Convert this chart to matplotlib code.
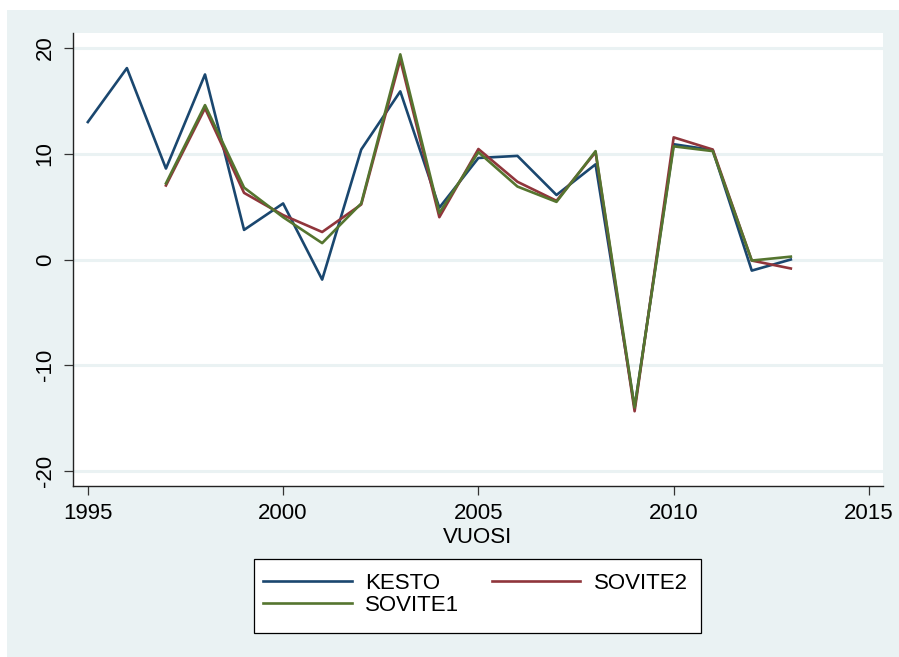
import matplotlib
matplotlib.use("Agg")
import matplotlib.pyplot as plt
from matplotlib.patches import Rectangle
import numpy as np

years_kesto = [1995, 1996, 1997, 1998, 1999, 2000, 2001, 2002, 2003, 2004,
               2005, 2006, 2007, 2008, 2009, 2010, 2011, 2012, 2013]
kesto = [13.0, 18.1, 8.6, 17.5, 2.8, 5.3, -1.9, 10.4, 15.9, 4.9,
         9.6, 9.8, 6.1, 9.0, -14.0, 10.9, 10.35, -1.05, 0.0]

years_sov = [1997, 1998, 1999, 2000, 2001, 2002, 2003, 2004, 2005, 2006,
             2007, 2008, 2009, 2010, 2011, 2012, 2013]
sovite2 = [7.0, 14.3, 6.3, 4.2, 2.6, 5.2, 18.9, 4.0, 10.45, 7.35,
           5.55, 10.15, -14.35, 11.55, 10.4, -0.1, -0.85]
sovite1 = [7.2, 14.6, 6.8, 4.0, 1.55, 5.3, 19.4, 4.4, 10.15, 6.9,
           5.45, 10.25, -14.0, 10.7, 10.25, -0.1, 0.27]

xticks = [1995, 2000, 2005, 2010, 2015]
yticks = [-20, -10, 0, 10, 20]
labels = ["KESTO", "SOVITE1", "SOVITE2"]

NAVY = "#1a476f"
MAROON = "#90353b"
GREEN = "#55752f"
BG = "#eaf2f3"

W, H = 899, 657
plt.rcParams['font.family'] = ['Liberation Sans', 'DejaVu Sans']
fig = plt.figure(figsize=(W / 100, H / 100), dpi=100, facecolor="white")

fig.patches.append(Rectangle((7 / W, 0), 1 - 7 / W, (H - 10) / H,
                             transform=fig.transFigure, facecolor=BG,
                             edgecolor="none", zorder=-10))

ax = fig.add_axes([73 / W, 1 - 486 / H, (883 - 73) / W, (486 - 33) / H])
ax.set_facecolor("white")

lw = 1.9
l1, = ax.plot(years_kesto, kesto, color=NAVY, lw=lw, label=labels[0], zorder=3)
l3, = ax.plot(years_sov, sovite2, color=MAROON, lw=lw, label=labels[2], zorder=4)
l2, = ax.plot(years_sov, sovite1, color=GREEN, lw=lw, label=labels[1], zorder=5)

ax.set_xlim(1994.62, 2015.36)
ax.set_ylim(-21.42, 21.42)
ax.set_xticks(xticks)
ax.set_yticks(yticks)
ax.set_xticklabels([str(v) for v in xticks], fontsize=16)
ax.set_yticklabels([str(v) for v in yticks], fontsize=16, rotation=90, va="center")
ax.tick_params(axis="both", direction="out", length=6.5, width=0.9, color="#333333")
ax.tick_params(axis="x", pad=6)
ax.tick_params(axis="y", pad=6)
ax.grid(axis="y", color=BG, lw=2.2, zorder=1)
ax.set_axisbelow(True)
for s in ["top", "right"]:
    ax.spines[s].set_visible(False)
for s in ["left", "bottom"]:
    ax.spines[s].set_color("#222222")
    ax.spines[s].set_linewidth(1.0)

ax.set_xlabel("VUOSI", fontsize=16, labelpad=2)

# legend frame
fig.patches.append(Rectangle((254 / W, 1 - 633 / H), (701 - 254) / W, (633 - 559) / H,
                             transform=fig.transFigure, facecolor="white",
                             edgecolor="black", lw=0.9, zorder=-5))
leg = fig.legend([l1, l2, l3], labels, ncol=2, loc="upper left",
                 bbox_to_anchor=(263 / W, 1 - 573 / H),
                 fontsize=16, frameon=False,
                 handlelength=4.0, handletextpad=0.6, borderaxespad=0,
                 labelspacing=0.05, borderpad=0, columnspacing=1.45)

fig.savefig("out.png", dpi=100, facecolor="white")
